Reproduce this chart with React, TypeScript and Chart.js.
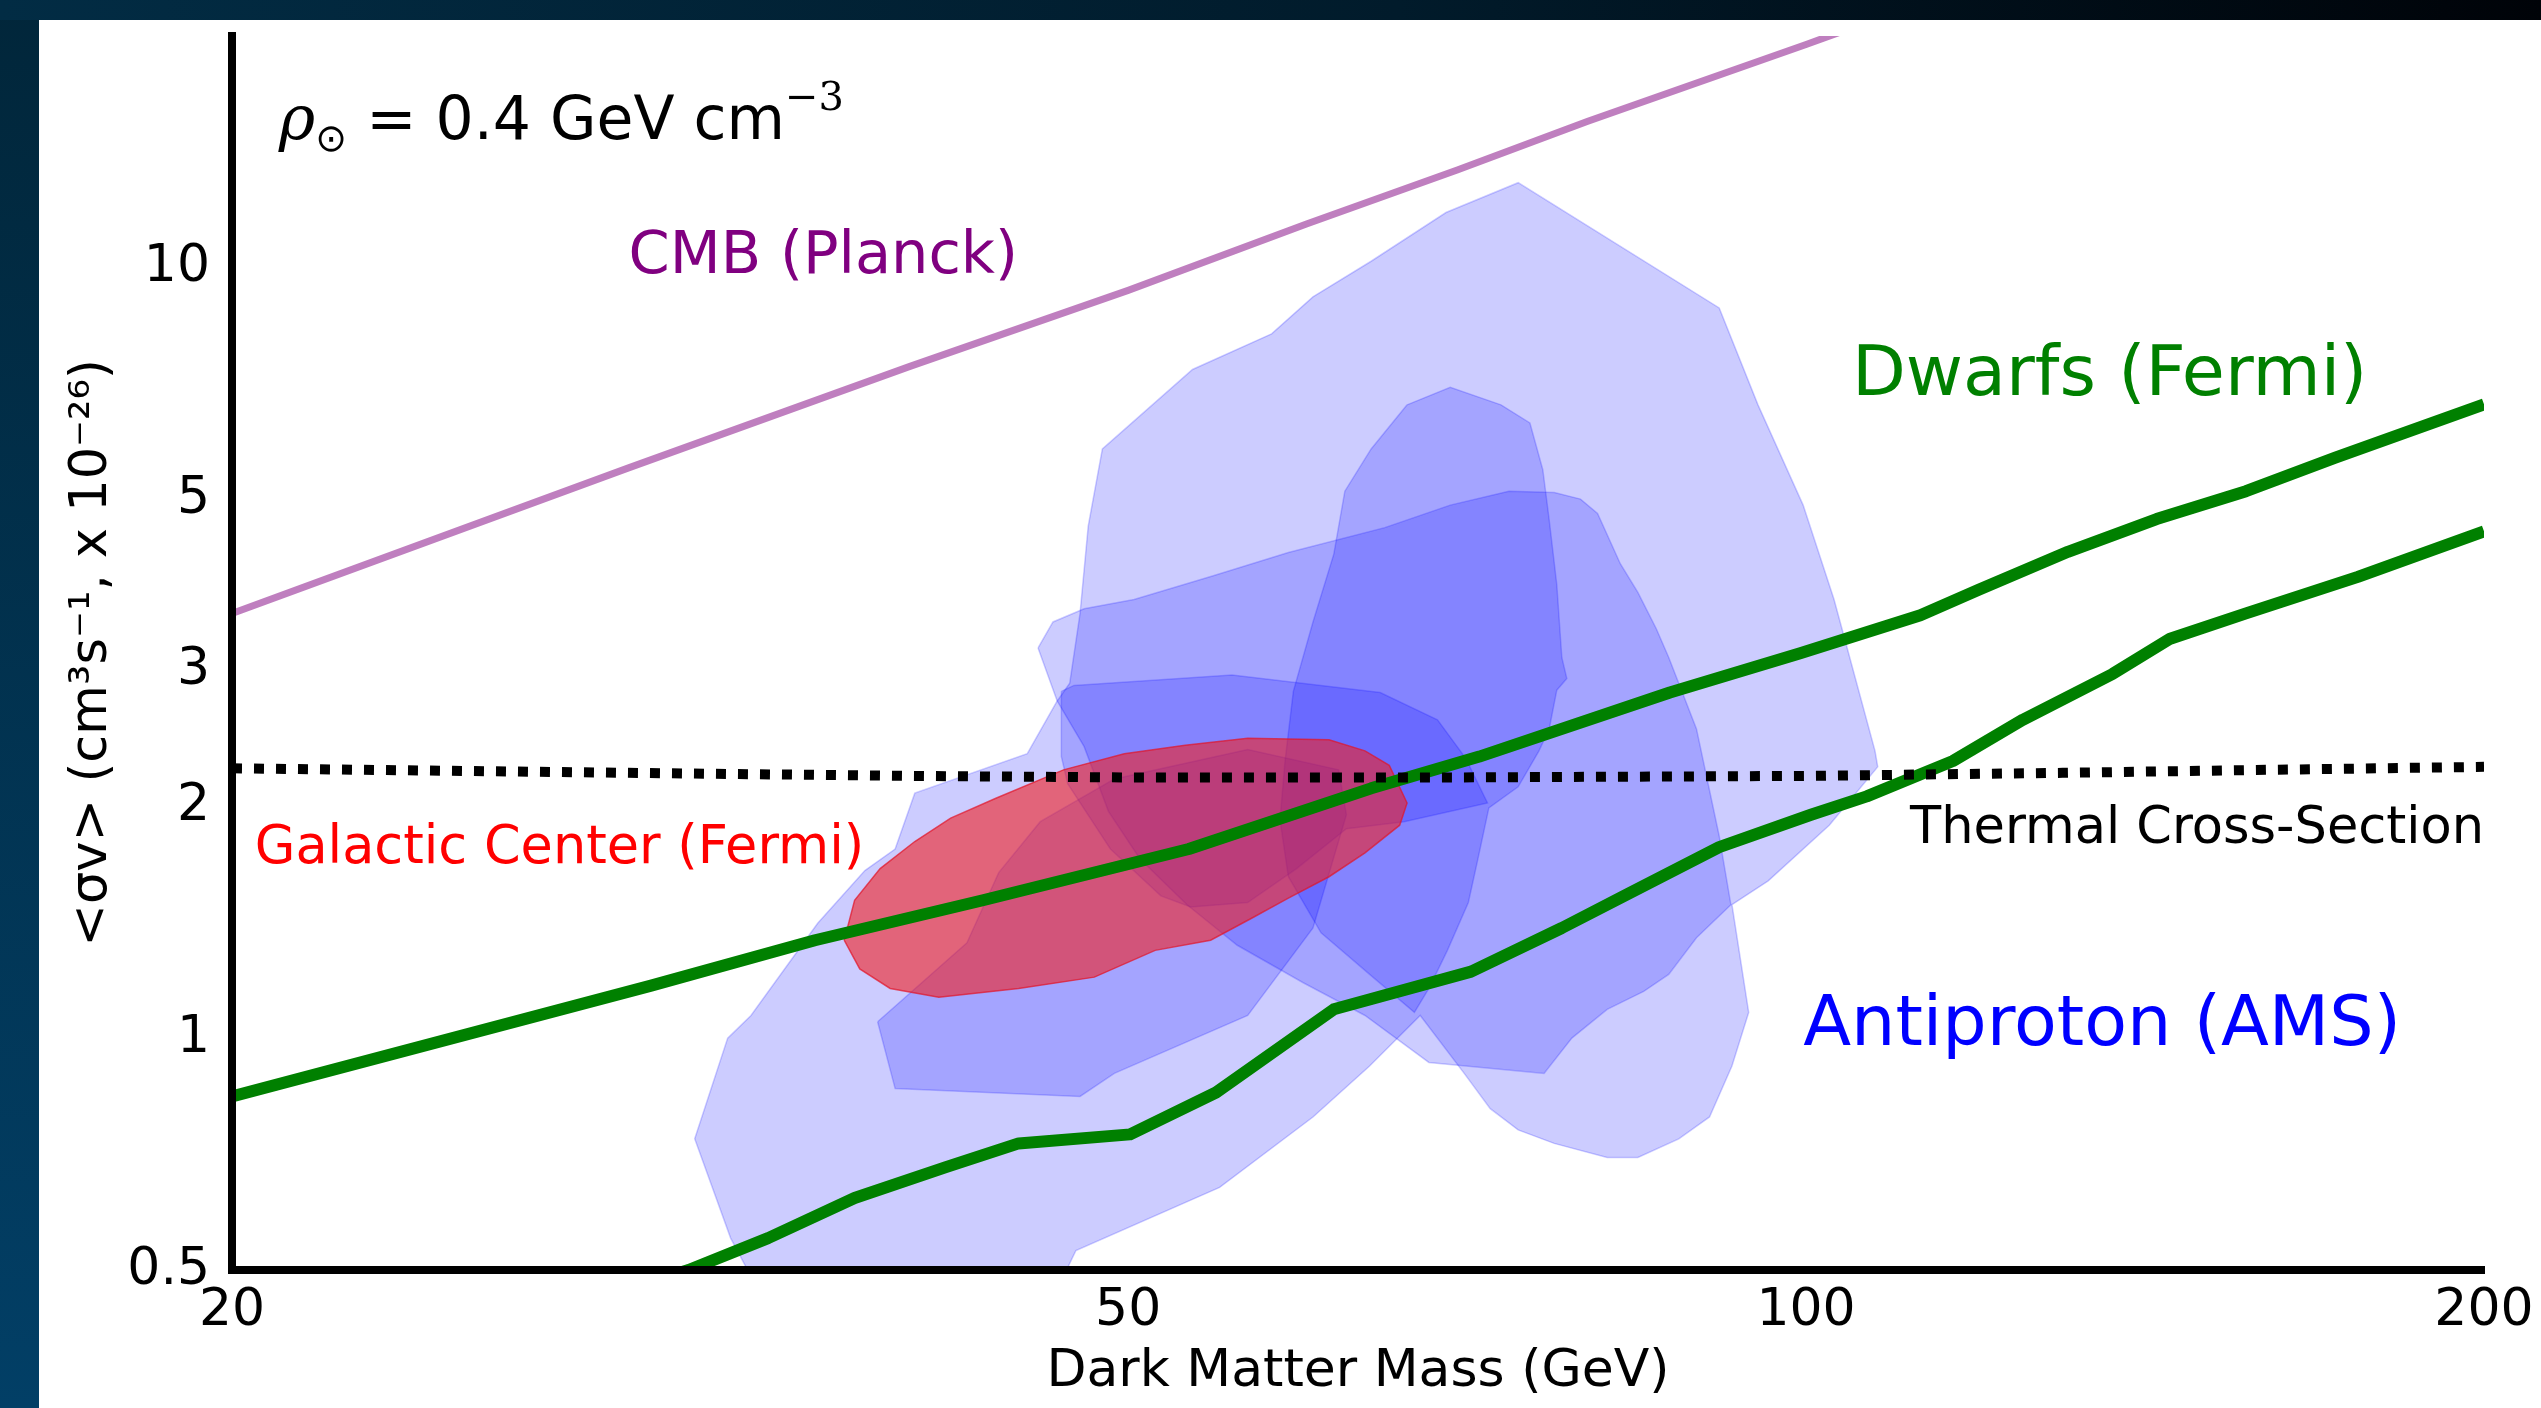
import React, { useEffect, useRef } from 'react';
import { Chart, registerables } from 'chart.js';

Chart.register(...registerables);

// ---------- axes ----------
const MASS_MIN = 20;
const MASS_MAX = 200;
const SIGMA_MIN = 0.5;
const SIGMA_MAX = 20;
const MASS_TICKS = [20, 50, 100, 200];
const SIGMA_TICKS = [0.5, 1, 2, 3, 5, 10];

// ---------- CMB (Planck) ----------
const CMB_MASS = [20, 30, 40, 50, 60, 70, 80, 100, 115];
const CMB_SIGMA = [3.56, 5.5, 7.45, 9.35, 11.4, 13.4, 15.5, 19.5, 22.6];

// ---------- Thermal cross-section ----------
const THERMAL_MASS = [20, 30, 40, 50, 70, 100, 130, 160, 200];
const THERMAL_SIGMA = [2.24, 2.21, 2.19, 2.18, 2.18, 2.19, 2.21, 2.23, 2.25];

// ---------- Dwarfs (Fermi) ----------
const DWARF_A_MASS = [20, 30.7, 36.3, 43.1, 53.2, 64.1, 71.6, 87, 99.4, 112.4, 119.3, 130.7, 143.1, 156.8, 171.8, 200];
const DWARF_A_SIGMA = [0.84, 1.17, 1.34, 1.51, 1.76, 2.11, 2.32, 2.81, 3.16, 3.54, 3.82, 4.28, 4.72, 5.13, 5.67, 6.65];
const DWARF_B_MASS = [29.8, 31.9, 34.6, 37.8, 41.5, 44.7, 50.1, 54.7, 61.7, 71, 77.9, 83.4, 91.5, 100.5, 106.4, 116.2, 124.8, 136.8, 145.1, 156.8, 175.8, 200];
const DWARF_B_SIGMA = [0.47, 0.5, 0.55, 0.62, 0.68, 0.73, 0.75, 0.85, 1.09, 1.22, 1.39, 1.54, 1.77, 1.95, 2.06, 2.29, 2.59, 2.97, 3.3, 3.56, 3.97, 4.55];

// ---------- Galactic Center (Fermi) region ----------
const GC_MASS = [37.4, 38.0, 39.2, 41.2, 44.7, 48.3, 51.4, 54.4, 56.7, 58.9, 61.4, 63.7, 66.0, 66.5, 65.3, 63.7, 61.4, 56.5, 53.0, 49.8, 46.8, 43.7, 41.7, 40.2, 38.8, 37.8];
const GC_SIGMA = [1.34, 1.23, 1.16, 1.13, 1.16, 1.2, 1.3, 1.34, 1.43, 1.52, 1.62, 1.74, 1.89, 2.02, 2.26, 2.36, 2.44, 2.45, 2.4, 2.34, 2.23, 2.05, 1.93, 1.8, 1.66, 1.51];

// ---------- Antiproton (AMS) regions ----------
const PBAR_OUTER_MASS = [34.4, 46.3, 47.4, 54.9, 60.4, 64.0, 67.4, 70.5, 72.4, 74.5, 77.3, 81.6, 84.2, 87.8, 90.6, 92.7, 94.3, 92.7, 96.2, 102.4, 107.6, 107.3, 102.9, 99.7, 95.2, 91.5, 74.5, 69.2, 64.1, 60.4, 57.9, 53.4, 48.7, 48.0, 47.6, 47.1, 46.5, 45.1, 40.2, 39.4, 38.2, 36.4, 34.0, 33.2, 32.1, 33.3];
const PBAR_OUTER_SIGMA = [0.46, 0.46, 0.53, 0.64, 0.79, 0.92, 1.07, 0.9, 0.81, 0.76, 0.73, 0.7, 0.7, 0.74, 0.79, 0.92, 1.08, 1.49, 1.6, 1.89, 2.25, 2.36, 3.71, 4.92, 6.64, 8.87, 12.9, 11.8, 10.2, 9.17, 8.21, 7.38, 5.82, 4.62, 3.56, 2.89, 2.74, 2.34, 2.08, 1.76, 1.65, 1.41, 1.07, 1.0, 0.74, 0.55];

const PBAR_BAND_MASS = [45.6, 46.3, 47.8, 50.3, 54.5, 58.9, 65.0, 69.5, 73.8, 77.3, 79.4, 80.8, 82.7, 84.2, 85.8, 86.9, 89.4, 91.5, 92.6, 89.4, 86.9, 84.7, 81.6, 78.7, 76.5, 68.0, 63.7, 59.8, 55.9, 53.1, 50.6, 49.0, 47.8, 46.5];
const PBAR_BAND_SIGMA = [3.21, 3.47, 3.61, 3.71, 3.98, 4.27, 4.6, 4.92, 5.13, 5.11, 5.01, 4.8, 4.13, 3.79, 3.4, 3.12, 2.52, 1.83, 1.49, 1.35, 1.21, 1.15, 1.09, 1.0, 0.9, 0.93, 1.07, 1.18, 1.32, 1.49, 1.71, 1.97, 2.39, 2.74];

const PBAR_TALL_MASS = [66.5, 69.5, 73.2, 75.4, 76.4, 76.9, 77.5, 77.9, 78.3, 77.5, 76.9, 76.1, 74.5, 72.3, 71.5, 70.8, 69.3, 68.0, 67.0, 64.0, 60.9, 58.9, 58.4, 58.7, 59.2, 60.4, 61.7, 62.4, 64.1];
const PBAR_TALL_SIGMA = [6.64, 7.0, 6.64, 6.29, 5.47, 4.71, 3.88, 3.12, 2.93, 2.83, 2.52, 2.36, 2.12, 1.99, 1.71, 1.5, 1.3, 1.16, 1.08, 1.21, 1.37, 1.62, 1.92, 2.29, 2.82, 3.47, 4.25, 5.13, 5.82];

const PBAR_LOW_MASS = [38.7, 39.4, 47.6, 49.3, 56.5, 60.4, 62.5, 62.0, 56.5, 49.3, 45.7, 43.8, 42.4];
const PBAR_LOW_SIGMA = [1.05, 0.86, 0.84, 0.9, 1.07, 1.39, 1.95, 2.23, 2.37, 2.17, 1.91, 1.64, 1.33];

const PBAR_CORE_MASS = [46.7, 47.3, 55.6, 64.7, 68.6, 70.6, 72.2, 66.3, 62.5, 59.4, 56.5, 53.3, 51.7, 49.1, 47.0, 46.7];
const PBAR_CORE_SIGMA = [2.82, 2.87, 2.96, 2.81, 2.59, 2.31, 2.02, 1.91, 1.87, 1.66, 1.5, 1.48, 1.53, 1.76, 2.14, 2.32];

// ---------- helpers ----------
const openPts = (xs: number[], ys: number[]) => xs.map((x, i) => ({ x, y: ys[i] }));
const closedPts = (xs: number[], ys: number[]) => {
  const p = openPts(xs, ys);
  p.push({ ...p[0] });
  return p;
};

const SANS = '"DejaVu Sans", "Noto Sans", sans-serif';
const SERIF = '"DejaVu Serif", serif';

type Part = { text: string; size: number; family?: string; style?: string; dy?: number };
type Label = { mass: number; sigma: number; color: string; align: 'left' | 'right'; parts: Part[] };

const LABELS: Label[] = [
  {
    mass: 20.98, sigma: 14.7, color: '#000000', align: 'left',
    parts: [
      { text: 'ρ', size: 62, family: SERIF, style: 'italic' },
      { text: '⊙', size: 38, dy: 12 },
      { text: ' = 0.4 GeV cm', size: 60 },
      { text: '−3', size: 40, family: SERIF, dy: -29 },
    ],
  },
  { mass: 30.0, sigma: 9.86, color: '#800080', align: 'left', parts: [{ text: 'CMB (Planck)', size: 59 }] },
  { mass: 104.8, sigma: 6.83, color: '#008000', align: 'left', parts: [{ text: 'Dwarfs (Fermi)', size: 70 }] },
  { mass: 99.7, sigma: 0.98, color: '#0000ff', align: 'left', parts: [{ text: 'Antiproton (AMS)', size: 70 }] },
  { mass: 20.47, sigma: 1.69, color: '#ff0000', align: 'left', parts: [{ text: 'Galactic Center (Fermi)', size: 52.5 }] },
  { mass: 200, sigma: 1.79, color: '#000000', align: 'right', parts: [{ text: 'Thermal Cross-Section', size: 51 }] },
];

const fontOf = (p: Part) => `${p.style || 'normal'} ${p.size}px ${p.family || SANS}`;

const labelPlugin = {
  id: 'textLabels',
  afterDraw(chart: any) {
    const { ctx } = chart;
    const xs = chart.scales.x;
    const ys = chart.scales.y;
    ctx.save();
    ctx.textAlign = 'left';
    ctx.textBaseline = 'alphabetic';
    for (const lab of LABELS) {
      let cx = xs.getPixelForValue(lab.mass);
      const cy = ys.getPixelForValue(lab.sigma);
      if (lab.align === 'right') {
        let w = 0;
        for (const p of lab.parts) {
          ctx.font = fontOf(p);
          w += ctx.measureText(p.text).width;
        }
        cx -= w;
      }
      ctx.fillStyle = lab.color;
      for (const p of lab.parts) {
        ctx.font = fontOf(p);
        ctx.fillText(p.text, cx, cy + (p.dy || 0));
        cx += ctx.measureText(p.text).width;
      }
    }
    ctx.restore();
  },
};

const BLUE_FILL = 'rgba(0, 0, 255, 0.2)';
const BLUE_EDGE = 'rgba(0, 0, 255, 0.2)';

const polygon = (xs: number[], ys: number[], fill: string, edge: string) => ({
  data: closedPts(xs, ys),
  backgroundColor: fill,
  borderColor: edge,
  borderWidth: 1.5,
  fill: 'shape',
  pointRadius: 0,
  tension: 0,
  clip: 0,
});

const curve = (xs: number[], ys: number[], color: string, width: number, dash: number[] = []) => ({
  data: openPts(xs, ys),
  borderColor: color,
  borderWidth: width,
  borderDash: dash,
  borderJoinStyle: 'round',
  pointRadius: 0,
  fill: false,
  tension: 0,
  clip: 0,
});

export default function App() {
  const ref = useRef<HTMLCanvasElement | null>(null);

  useEffect(() => {
    const canvas = ref.current;
    if (!canvas) return;
    const chart = new Chart(canvas, {
      type: 'line',
      data: {
        datasets: [
          curve(THERMAL_MASS, THERMAL_SIGMA, '#000000', 10, [10, 12]),
          curve(DWARF_A_MASS, DWARF_A_SIGMA, '#008000', 12),
          curve(DWARF_B_MASS, DWARF_B_SIGMA, '#008000', 12),
          curve(CMB_MASS, CMB_SIGMA, 'rgba(128, 0, 128, 0.5)', 7),
          polygon(GC_MASS, GC_SIGMA, 'rgba(240, 30, 33, 0.6)', 'rgba(225, 20, 40, 0.7)'),
          polygon(PBAR_CORE_MASS, PBAR_CORE_SIGMA, BLUE_FILL, BLUE_EDGE),
          polygon(PBAR_LOW_MASS, PBAR_LOW_SIGMA, BLUE_FILL, BLUE_EDGE),
          polygon(PBAR_TALL_MASS, PBAR_TALL_SIGMA, BLUE_FILL, BLUE_EDGE),
          polygon(PBAR_BAND_MASS, PBAR_BAND_SIGMA, BLUE_FILL, BLUE_EDGE),
          polygon(PBAR_OUTER_MASS, PBAR_OUTER_SIGMA, BLUE_FILL, BLUE_EDGE),
        ] as any,
      },
      options: {
        animation: false,
        responsive: false,
        devicePixelRatio: 1,
        events: [],
        layout: { padding: { left: 0, top: 16, right: 57, bottom: 0 } },
        plugins: {
          legend: { display: false },
          tooltip: { enabled: false },
        },
        scales: {
          x: {
            type: 'logarithmic',
            position: 'bottom',
            min: MASS_MIN,
            max: MASS_MAX,
            afterBuildTicks: (axis: any) => {
              axis.ticks = MASS_TICKS.map((value) => ({ value }));
            },
            afterFit: (axis: any) => {
              axis.height = 138;
              axis.paddingLeft = 0;
              axis.paddingRight = 0;
            },
            grid: { display: false, drawTicks: false },
            border: { display: true, color: '#000000', width: 8, z: 1 },
            ticks: {
              color: '#000000',
              font: { family: SANS, size: 52 },
              padding: 10,
              autoSkip: false,
              maxRotation: 0,
              callback: (v: any) => String(v),
            },
            title: {
              display: true,
              text: 'Dark Matter Mass (GeV)',
              color: '#000000',
              font: { family: SANS, size: 52 },
              padding: { top: 0, bottom: 4 },
            },
          },
          y: {
            type: 'logarithmic',
            position: 'left',
            min: SIGMA_MIN,
            max: SIGMA_MAX,
            afterBuildTicks: (axis: any) => {
              axis.ticks = SIGMA_TICKS.map((value) => ({ value }));
            },
            afterFit: (axis: any) => {
              axis.width = 193;
              axis.paddingTop = 0;
              axis.paddingBottom = 0;
            },
            grid: { display: false, drawTicks: false },
            border: { display: true, color: '#000000', width: 8, z: 1 },
            ticks: {
              color: '#000000',
              font: { family: SANS, size: 52 },
              padding: 22,
              autoSkip: false,
              callback: (v: any) => String(v),
            },
            title: {
              display: true,
              text: '<σv> (cm³s⁻¹, x 10⁻²⁶)',
              color: '#000000',
              font: { family: SANS, size: 51 },
              padding: { top: 23, bottom: 0 },
            },
          },
        },
      } as any,
      plugins: [labelPlugin],
    });
    return () => chart.destroy();
  }, []);

  return (
    <div
      style={{
        position: 'absolute',
        left: 0,
        top: 0,
        width: 2541,
        height: 1408,
        overflow: 'hidden',
        background: 'linear-gradient(180deg, #01263a 0%, #023f66 100%)',
      }}
    >
      <div
        style={{
          position: 'absolute',
          left: 0,
          top: 0,
          width: 2541,
          height: 20,
          background: 'linear-gradient(90deg, #022c44 0%, #011b2b 55%, #000308 100%)',
        }}
      />
      <div style={{ position: 'absolute', left: 39, top: 20, width: 2502, height: 1388, background: '#ffffff' }}>
        <canvas ref={ref} width={2502} height={1388} style={{ display: 'block', width: 2502, height: 1388 }} />
      </div>
    </div>
  );
}
